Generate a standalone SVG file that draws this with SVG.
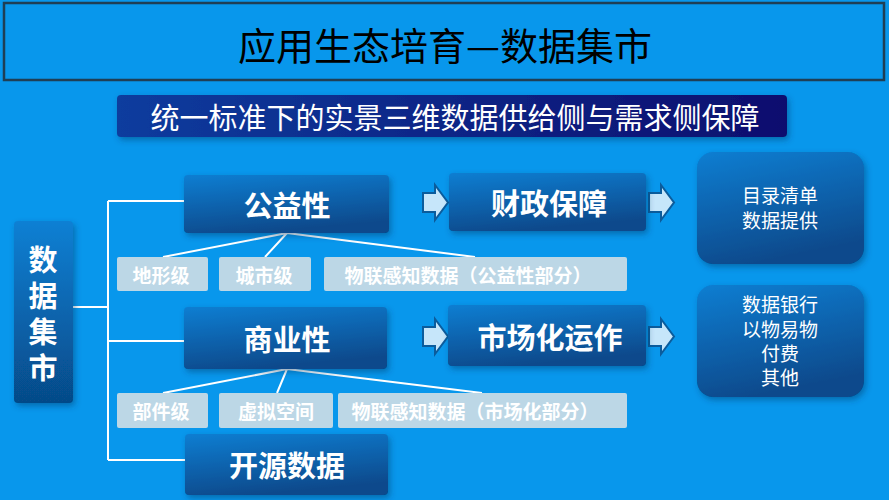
<svg xmlns="http://www.w3.org/2000/svg" width="889" height="500" viewBox="0 0 889 500">
<defs>
<linearGradient id="gBox" x1="0" y1="0" x2="0.3" y2="1">
<stop offset="0" stop-color="#0A7ED2"/>
<stop offset="1" stop-color="#074A8C"/>
</linearGradient>
<linearGradient id="gSide" x1="0" y1="0" x2="0" y2="1">
<stop offset="0" stop-color="#0A80D4"/>
<stop offset="1" stop-color="#064A88"/>
</linearGradient>
<linearGradient id="gSub" x1="0" y1="0" x2="1" y2="0">
<stop offset="0" stop-color="#0C3C9E"/>
<stop offset="1" stop-color="#0A0E6E"/>
</linearGradient>
<filter id="sh" x="-10%" y="-10%" width="130%" height="140%">
<feDropShadow dx="2" dy="3" stdDeviation="3" flood-color="#003060" flood-opacity="0.45"/>
</filter>
<path id="arr" d="M0,8 H12 V0 L25,17.5 L12,35 V27 H0 Z"/>
</defs>
<style>
.box{fill:url(#gBox);filter:url(#sh)}
.big{font-family:"Noto Sans CJK SC",sans-serif;font-weight:bold;font-size:29px;fill:#fff;text-anchor:middle;dominant-baseline:central}
.small{fill:#BCD7E6}
.st{font-family:"Noto Sans CJK SC",sans-serif;font-weight:bold;font-size:19px;fill:#fff;text-anchor:middle;dominant-baseline:central}
.rt{font-family:"Liberation Sans","Noto Sans CJK SC",sans-serif;font-size:19px;fill:#fff;text-anchor:middle;dominant-baseline:central}
.ln{stroke:#fff;stroke-width:2;fill:none}
.ar{fill:#C6E6FA;stroke:#0B5C9C;stroke-width:2}
</style>
<rect width="889" height="500" fill="#0897EC"/>
<g id="title">
<rect x="4" y="3" width="880" height="77" fill="#0897EC" stroke="#1F3F55" stroke-width="2.5"/>
<text x="445" y="43" font-family="Noto Sans CJK SC,sans-serif" font-size="38" fill="#000" text-anchor="middle" dominant-baseline="central">应用生态培育—数据集市</text>
</g>
<g id="subtitle">
<rect x="117" y="95" width="670" height="42" rx="4" fill="url(#gSub)" filter="url(#sh)"/>
<text x="455" y="116" font-family="Noto Sans CJK SC,sans-serif" font-size="29" fill="#fff" text-anchor="middle" dominant-baseline="central">统一标准下的实景三维数据供给侧与需求侧保障</text>
</g>
<g id="connectors">
<path class="ln" d="M73,307 H108 M108,201 V460 M108,201 H184 M108,341 H184 M108,460 H185"/>
<path class="ln" d="M287,233 L163,257 M287,233 L265,257 M287,233 L475,257"/>
<path class="ln" d="M287,369 L163,393 M287,369 L277,393 M287,369 L482,393"/>
<use href="#arr" class="ar" x="423" y="185"/>
<use href="#arr" class="ar" x="649" y="185"/>
<use href="#arr" class="ar" x="423" y="319"/>
<use href="#arr" class="ar" x="649" y="319"/>
</g>
<g id="side">
<rect x="14" y="221" width="59" height="182" rx="4" fill="url(#gSide)" filter="url(#sh)"/>
<text x="43" y="245" writing-mode="vertical-rl" letter-spacing="7" font-family="Noto Sans CJK SC,sans-serif" font-weight="bold" font-size="29" fill="#fff">数据集市</text>
</g>
<g id="gongyi"><rect class="box" x="184" y="175" width="205" height="58" rx="4"/><text class="big" x="287" y="204">公益性</text></g>
<g id="shangye"><rect class="box" x="184" y="307" width="203" height="62" rx="4"/><text class="big" x="287" y="338">商业性</text></g>
<g id="kaiyuan"><rect class="box" x="185" y="434" width="203" height="61" rx="4"/><text class="big" x="287" y="464">开源数据</text></g>
<g id="caizheng"><rect class="box" x="449" y="173" width="197" height="58" rx="4"/><text class="big" x="549" y="202">财政保障</text></g>
<g id="shichang"><rect class="box" x="448" y="305" width="198" height="61" rx="4"/><text class="big" x="550" y="336">市场化运作</text></g>
<g id="dixing"><rect class="small" x="117" y="257" width="91" height="34" rx="2"/><text class="st" x="161" y="274">地形级</text></g>
<g id="chengshi"><rect class="small" x="219" y="257" width="92" height="34" rx="2"/><text class="st" x="264" y="274">城市级</text></g>
<g id="wulian1"><rect class="small" x="324" y="257" width="303" height="34" rx="2"/><text class="st" x="468" y="274">物联感知数据（公益性部分）</text></g>
<g id="bujian"><rect class="small" x="117" y="393" width="91" height="35" rx="2"/><text class="st" x="161" y="410">部件级</text></g>
<g id="xuni"><rect class="small" x="219" y="393" width="114" height="35" rx="2"/><text class="st" x="276" y="410">虚拟空间</text></g>
<g id="wulian2"><rect class="small" x="338" y="393" width="289" height="35" rx="2"/><text class="st" x="475" y="410">物联感知数据（市场化部分）</text></g>
<g id="mulu"><rect class="box" x="697" y="152" width="167" height="112" rx="16"/><text class="rt"><tspan x="780" y="196">目录清单</tspan><tspan x="780" y="221">数据提供</tspan></text></g>
<g id="shuju"><rect class="box" x="697" y="285" width="167" height="112" rx="16"/><text class="rt"><tspan x="780" y="305">数据银行</tspan><tspan x="780" y="330">以物易物</tspan><tspan x="780" y="354">付费</tspan><tspan x="780" y="378">其他</tspan></text></g>
</svg>
